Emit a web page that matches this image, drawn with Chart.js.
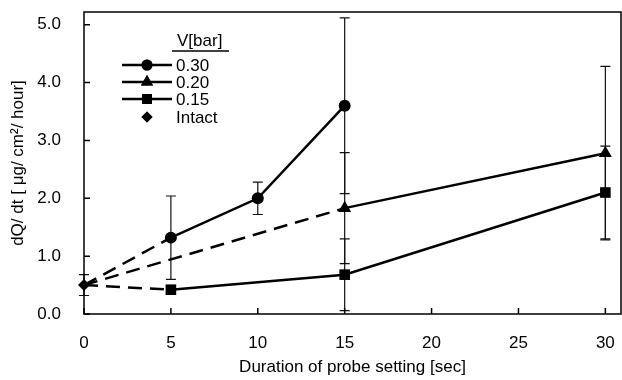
<!DOCTYPE html>
<html>
<head>
<meta charset="utf-8">
<script src="https://cdn.jsdelivr.net/npm/chart.js@4"></script>
<style>
html, body { margin: 0; padding: 0; background: #fff; }
#wrap { width: 622px; height: 380px; }
</style>
</head>
<body>
<div id="wrap"><canvas id="chart" width="622" height="380"></canvas></div>
<script>
// values
const times = [0, 5, 10, 15, 30];
const bar030 = [null, 1.32, 2.0, 3.6, null];
const bar020 = [null, null, null, 1.83, 2.78];
const bar015 = [null, 0.42, null, 0.68, 2.1];
const intact = [0.5, null, null, null, null];
const err030 = [null, 0.72, 0.28, 1.52, null];
const err020 = [null, null, null, 0.96, 1.5];
const err015 = [null, null, null, 0.62, 0.8];
const errIntact = [0.18, null, null, null, null];
const xTicks = [0, 5, 10, 15, 20, 25, 30];
const yTicks = [0, 1, 2, 3, 4, 5];
const legendTitle = 'V[bar]';
const legendNames = ['0.30', '0.20', '0.15', 'Intact'];

Chart.defaults.font.family = '"Liberation Sans", Arial, sans-serif';
Chart.defaults.font.size = 17;
Chart.defaults.color = '#000';

toPts = function(arr) {
    return times.map((t, i) => arr[i] == null ? null : {x: t, y: arr[i]}).filter(p => p);
}
startLine = function(arr) {
    return [{x: times[0], y: intact[0]}, toPts(arr)[0]];
}

const styles = ['circle', 'triangle', 'rect', 'rectRot'];
const radii = [6, 7.5, 7.5, 6];
const series = [bar030, bar020, bar015, intact];
const errors = [err030, err020, err015, errIntact];

const datasets = [];
series.forEach((s, k) => {
    datasets.push({
        label: legendNames[k],
        data: toPts(s),
        borderColor: '#000',
        backgroundColor: '#000',
        borderWidth: 2.5,
        pointStyle: styles[k],
        pointRadius: radii[k],
        pointBorderWidth: 0,
        showLine: k < 3,
        clip: false
    });
});
[bar030, bar020, bar015].forEach((s) => {
    datasets.push({
        label: '',
        data: startLine(s),
        borderColor: '#000',
        borderWidth: 2.5,
        borderDash: [14, 8],
        pointRadius: 0,
        clip: false
    });
});

const errorBars = {
    id: 'errorBars',
    beforeDatasetsDraw(chart) {
        const ctx = chart.ctx, xs = chart.scales.x, ys = chart.scales.y;
        ctx.save();
        ctx.strokeStyle = '#111';
        ctx.lineWidth = 1.2;
        errors.forEach((e, k) => {
            e.forEach((d, i) => {
                if (d == null) return;
                const px = xs.getPixelForValue(times[i]);
                const top = ys.getPixelForValue(series[k][i] + d);
                const bot = ys.getPixelForValue(series[k][i] - d);
                ctx.beginPath();
                ctx.moveTo(px, top); ctx.lineTo(px, bot);
                ctx.moveTo(px - 5, top); ctx.lineTo(px + 5, top);
                ctx.moveTo(px - 5, bot); ctx.lineTo(px + 5, bot);
                ctx.stroke();
            });
        });
        ctx.restore();
    }
};

const frame = {
    id: 'frame',
    beforeDatasetsDraw(chart) {
        const ctx = chart.ctx, a = chart.chartArea, xs = chart.scales.x, ys = chart.scales.y;
        ctx.save();
        ctx.strokeStyle = '#000';
        ctx.lineWidth = 1.5;
        ctx.strokeRect(a.left, a.top, a.right - a.left, a.bottom - a.top);
        ctx.beginPath();
        yTicks.forEach(v => {
            const py = ys.getPixelForValue(v);
            ctx.moveTo(a.left, py); ctx.lineTo(a.left + 6, py);
        });
        xTicks.forEach(v => {
            const px = xs.getPixelForValue(v);
            ctx.moveTo(px, a.bottom); ctx.lineTo(px, a.bottom - 6);
        });
        ctx.stroke();
        ctx.restore();
    }
};

const legendBox = {
    id: 'legendBox',
    afterDraw(chart) {
        const ctx = chart.ctx;
        ctx.save();
        ctx.fillStyle = '#000';
        ctx.strokeStyle = '#000';
        ctx.font = '17px "Liberation Sans", Arial, sans-serif';
        ctx.textBaseline = 'middle';
        ctx.textAlign = 'left';
        ctx.fillText(legendTitle, 177, 41);
        ctx.lineWidth = 1.5;
        ctx.beginPath(); ctx.moveTo(172, 51); ctx.lineTo(229, 51); ctx.stroke();
        const rows = [65, 82, 99, 117];
        legendNames.forEach((n, k) => {
            const y = rows[k];
            if (k < 3) {
                ctx.lineWidth = 2.5;
                ctx.beginPath(); ctx.moveTo(122, y); ctx.lineTo(172, y); ctx.stroke();
            }
            Chart.helpers.drawPoint(ctx, {pointStyle: styles[k], radius: radii[k] - 0.5, borderWidth: 0}, 147, y);
            ctx.fill();
            ctx.fillText(n, 176, y + 1);
        });
        ctx.restore();
    }
};

new Chart(document.getElementById('chart'), {
    type: 'line',
    data: {datasets: datasets},
    options: {
        responsive: false,
        animation: false,
        layout: {autoPadding: false, padding: {left: 0, right: 1, top: 12, bottom: 0}},
        plugins: {legend: {display: false}, tooltip: {enabled: false}},
        scales: {
            x: {
                type: 'linear', min: 0, max: 30.9,
                afterBuildTicks: s => { s.ticks = xTicks.map(v => ({value: v})); },
                afterFit: s => { s.height = 66; s.paddingLeft = 0; s.paddingRight = 0; },
                grid: {display: false, drawTicks: true, tickLength: 19},
                border: {display: false},
                ticks: {padding: 0, maxRotation: 0, autoSkip: false},
                title: {display: true, text: 'Duration of probe setting [sec]', padding: {top: 0, bottom: 2}}
            },
            y: {
                min: 0, max: 5.22,
                afterBuildTicks: s => { s.ticks = yTicks.map(v => ({value: v})); },
                afterFit: s => { s.width = 84; s.paddingTop = 0; s.paddingBottom = 0; },
                grid: {display: false, drawTicks: true, tickLength: 23},
                border: {display: false},
                ticks: {padding: 0, callback: v => v.toFixed(1)},
                title: {display: true, text: 'dQ/ dt [ μg/ cm²/ hour]', padding: {top: 8, bottom: 0}}
            }
        }
    },
    plugins: [errorBars, frame, legendBox]
});
</script>
</body>
</html>
